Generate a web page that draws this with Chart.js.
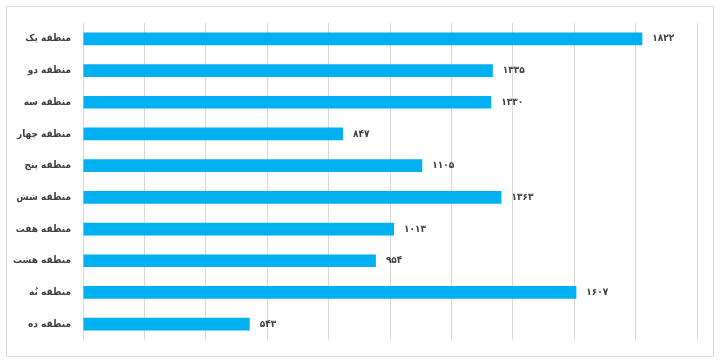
<!DOCTYPE html>
<html>
<head>
<meta charset="utf-8">
<script src="https://cdn.jsdelivr.net/npm/chart.js@4"></script>
<style>
  html, body { margin: 0; padding: 0; background: #fff; }
  #wrap { width: 720px; height: 360px; }
</style>
</head>
<body>
<div id="wrap"><canvas id="myChart" width="720" height="360"></canvas></div>
<script>
// data
var regions = ["منطقه یک", "منطقه دو", "منطقه سه", "منطقه چهار", "منطقه پنج",
               "منطقه شش", "منطقه هفت", "منطقه هشت", "منطقه نُه", "منطقه ده"];
var counts = [1822, 1335, 1330, 847, 1105, 1363, 1013, 954, 1607, 543];

var FONT = "'DejaVu Sans Condensed', 'DejaVu Sans', sans-serif";

// western digits -> persian digits, no grouping
function faDigits(n) {
    var d = "۰۱۲۳۴۵۶۷۸۹";
    return String(n).replace(/[0-9]/g, function (c) { return d[+c]; });
}

// light frame around the whole chart
var framePlugin = {
    id: "frame",
    afterDraw: function (chart) {
        var ctx = chart.ctx;
        ctx.save();
        ctx.strokeStyle = "#d9d9d9";
        ctx.lineWidth = 1;
        ctx.strokeRect(6.5, 6.5, 707, 350);
        ctx.restore();
    }
};

// value labels at the end of each bar
var valueLabels = {
    id: "valueLabels",
    afterDatasetsDraw: function (chart) {
        var ctx = chart.ctx;
        var meta = chart.getDatasetMeta(0);
        ctx.save();
        ctx.font = "bold 10px " + FONT;
        ctx.fillStyle = "#404040";
        ctx.textAlign = "left";
        ctx.textBaseline = "middle";
        meta.data.forEach(function (bar, i) {
            ctx.fillText(faDigits(counts[i]), bar.x + 10, bar.y);
        });
        ctx.restore();
    }
};

var chart = new Chart(document.getElementById("myChart").getContext("2d"), {
    type: "bar",
    data: {
        labels: regions,
        datasets: [{
            data: counts,
            backgroundColor: "#00b0f0",
            borderWidth: 0,
            barPercentage: 0.8,
            categoryPercentage: 0.5
        }]
    },
    options: {
        indexAxis: "y",
        responsive: false,
        animation: false,
        layout: { padding: { top: 23, bottom: 20, right: 23, left: 0 } },
        plugins: {
            legend: { display: false },
            tooltip: { enabled: false }
        },
        scales: {
            x: {
                min: 0,
                max: 2000,
                ticks: { display: false, stepSize: 200 },
                grid: { color: "#d9d9d9", drawTicks: false },
                border: { display: false },
                afterFit: function (scale) { scale.height = 0; }
            },
            y: {
                ticks: {
                    padding: 12,
                    color: "#404040",
                    font: { family: FONT, size: 10, weight: "bold" }
                },
                grid: { display: false, drawTicks: false },
                border: { display: false },
                afterFit: function (scale) { scale.width = 83; }
            }
        }
    },
    plugins: [framePlugin, valueLabels]
});
</script>
</body>
</html>
